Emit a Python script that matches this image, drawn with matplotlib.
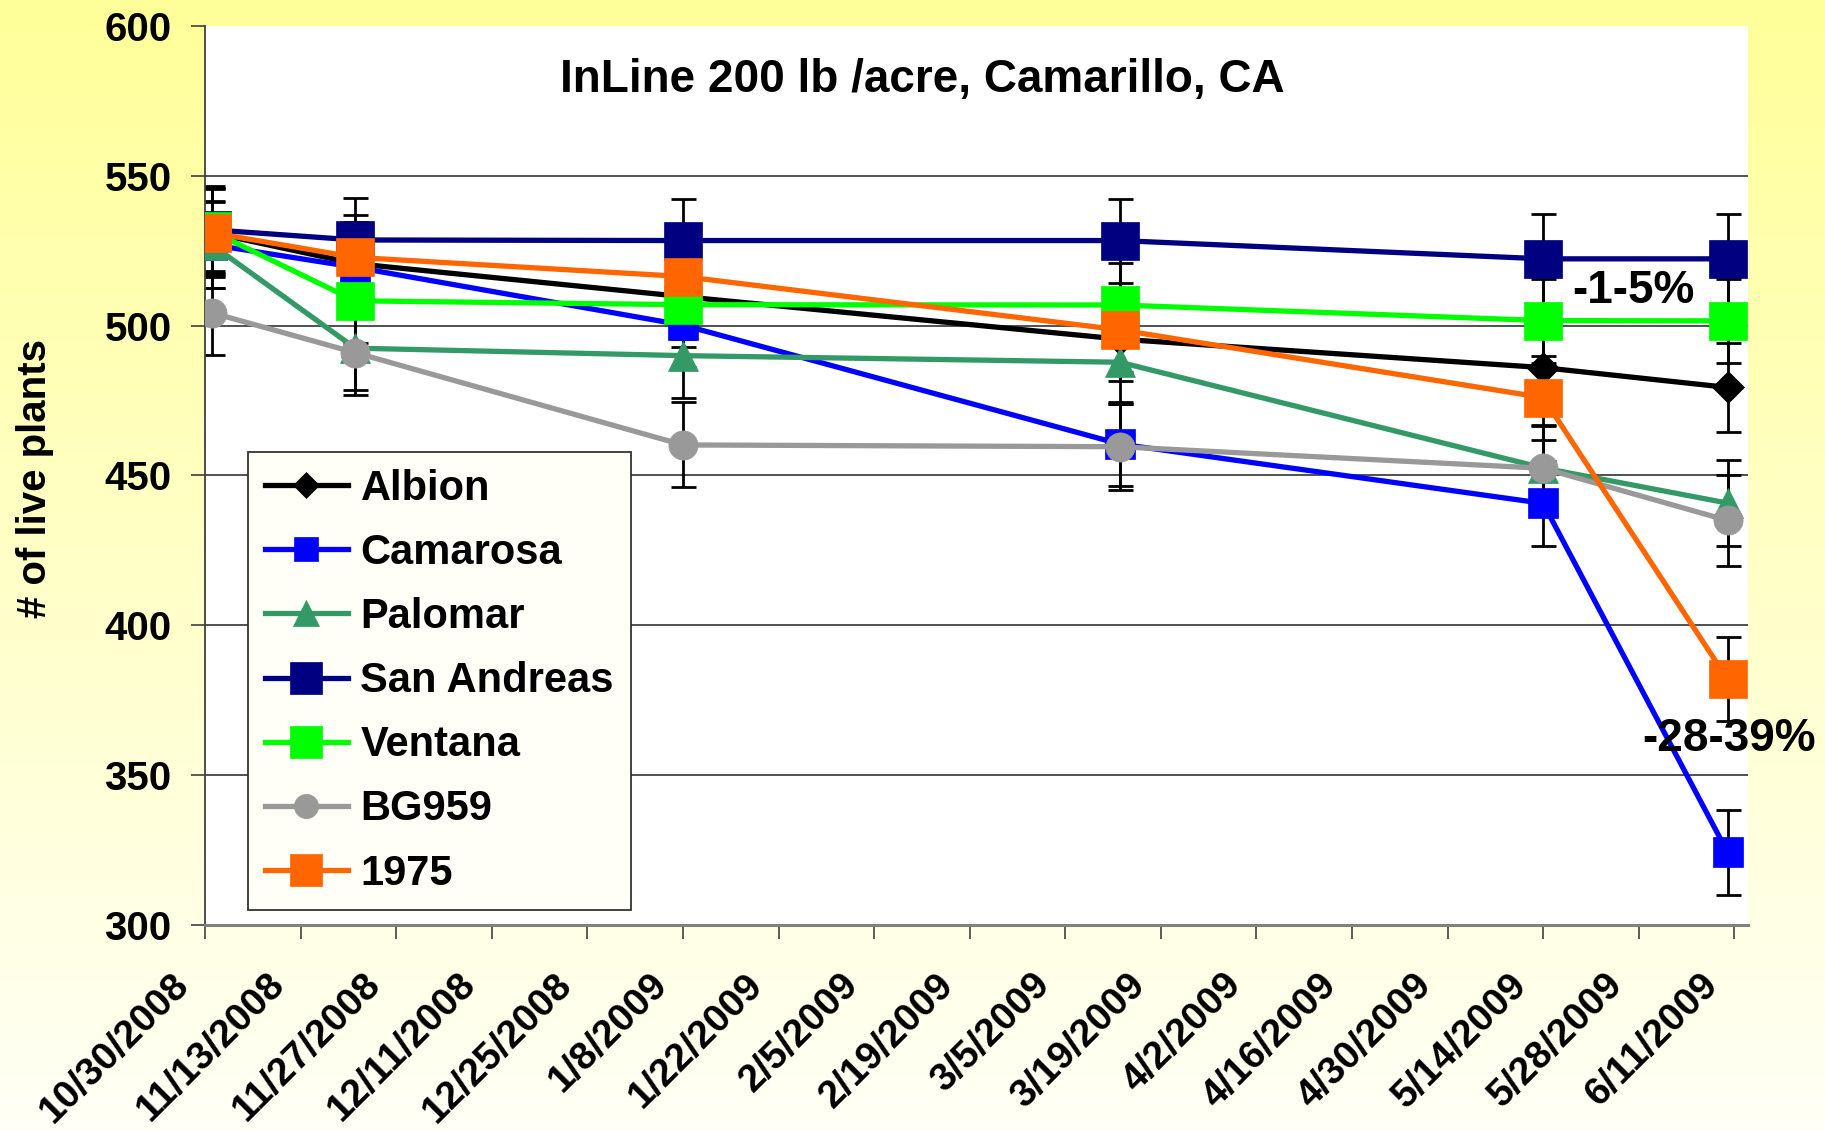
import numpy as np
import pandas as pd
import matplotlib.pyplot as plt
from matplotlib.transforms import ScaledTranslation

plt.rcParams['font.family'] = ['Liberation Sans', 'DejaVu Sans']
plt.rcParams['font.weight'] = 'bold'

# sampling dates and plant counts
sample_dates = pd.to_datetime(['2008-10-31', '2008-11-21', '2009-01-08',
                               '2009-03-13', '2009-05-14', '2009-06-10'])

series_names = ['Albion', 'Camarosa', 'Palomar', 'San Andreas', 'Ventana', 'BG959', '1975']
albion = [531, 520.7, 509.7, 495.5, 486, 479.4]
camarosa = [527, 519.5, 500.2, 460.5, 440.7, 324.3]
palomar = [527, 492.5, 490, 487.8, 452.5, 440.8]
san_andreas = [532, 528.6, 528.4, 528.4, 522.3, 522.3]
ventana = [531.5, 508.3, 507, 506.9, 501.7, 501.6]
bg959 = [504.3, 491, 460.2, 459.6, 452.4, 435]
y1975 = [531, 522.8, 516.4, 498.6, 476, 382]

# error bars (+/-)
albion_err = [14.5, 14, 14, 14, 14.5, 14.8]
camarosa_err = [14.3, 14, 14, 14, 14.2, 14.2]
palomar_err = [14.5, 14, 14, 14, 14.3, 14.3]
san_andreas_err = [14.5, 14, 13.8, 14, 15, 15]
ventana_err = [14.4, 14, 14, 14, 14, 14]
bg959_err = [14.1, 14, 14.2, 14.3, 14, 15.3]
y1975_err = [14.8, 14, 14, 14, 14, 14]

tick_labels = ['10/30/2008', '11/13/2008', '11/27/2008', '12/11/2008', '12/25/2008',
               '1/8/2009', '1/22/2009', '2/5/2009', '2/19/2009', '3/5/2009',
               '3/19/2009', '4/2/2009', '4/16/2009', '4/30/2009', '5/14/2009',
               '5/28/2009', '6/11/2009']

values = [albion, camarosa, palomar, san_andreas, ventana, bg959, y1975]
errs = [albion_err, camarosa_err, palomar_err, san_andreas_err, ventana_err, bg959_err, y1975_err]
colors = ['#000000', '#0000FF', '#339966', '#000080', '#00FF00', '#999999', '#FF6600']
markers = ['D', 's', '^', 's', 's', 'o', 's']
msizes = [16.5, 21, 22, 27, 27, 21, 27]

fig = plt.figure(figsize=(18.25, 11.31), dpi=100)

# yellow gradient background
bg = fig.add_axes([0, 0, 1, 1], zorder=-10)
grad = np.linspace(0, 1, 256).reshape(-1, 1)
top = np.array([1.0, 1.0, 0.60])
bot = np.array([1.0, 1.0, 0.965])
img = top + (bot - top) * grad[:, :, None]
bg.imshow(img, aspect='auto', extent=[0, 1, 0, 1])
bg.axis('off')

ax = fig.add_axes([205 / 1825, 1 - 925 / 1131, 1543 / 1825, 899 / 1131])
ax.set_facecolor('white')

for v, e in zip(values, errs):
    ax.errorbar(sample_dates, v, yerr=e, fmt='none', ecolor='black',
                elinewidth=2, capsize=9, capthick=2, zorder=2)

for name, v, c, m, ms in zip(series_names, values, colors, markers, msizes):
    ax.plot(sample_dates, v, color=c, marker=m, ms=ms, mec=c, mew=0.5,
            lw=3.8, label=name, zorder=3)

ax.set_ylim(300, 600)
ax.set_yticks(np.arange(300, 601, 50))
for yv in np.arange(350, 551, 50):
    ax.axhline(yv, color='#202020', lw=1.1, zorder=1)

ax.set_xlim(pd.Timestamp('2008-10-30'), pd.Timestamp('2009-06-13'))
ax.set_xticks(pd.to_datetime(tick_labels, format='%m/%d/%Y'))
ax.tick_params(axis='x', direction='out', length=10, width=1.2, color='#404040', pad=20)
ax.tick_params(axis='y', direction='out', length=10, width=1.2, color='#404040',
               pad=14, labelsize=29)
ax.set_xticklabels(tick_labels, rotation=45, ha='right', va='top',
                   rotation_mode='anchor', fontsize=28)
shift = ScaledTranslation(-0.34, 0, fig.dpi_scale_trans)
for lab in ax.get_xticklabels():
    lab.set_transform(lab.get_transform() + shift)

for s in ['top', 'right']:
    ax.spines[s].set_visible(False)
ax.spines['left'].set_color('#404040')
ax.spines['left'].set_linewidth(1.3)
ax.spines['bottom'].set_color('#808080')
ax.spines['bottom'].set_linewidth(2.2)

ax.text(0.465, 0.940, 'InLine 200 lb /acre, Camarillo, CA', transform=ax.transAxes,
        ha='center', va='center', fontsize=33)
ax.text(0.926, 0.705, '-1-5%', transform=ax.transAxes, ha='center', va='center',
        fontsize=33, zorder=5)
ax.text(0.988, 0.207, '-28-39%', transform=ax.transAxes, ha='center', va='center',
        fontsize=33, zorder=5, clip_on=False)

fig.text(35 / 1825, 1 - 478 / 1131, '# of live plants', rotation=90,
         ha='center', va='center', fontsize=29)

leg = ax.legend(loc='upper left', bbox_to_anchor=(248 / 1825, 1 - 452 / 1131),
                bbox_transform=fig.transFigure, fontsize=30, markerscale=0.83,
                frameon=True, fancybox=False, framealpha=1, facecolor='#FFFFF8',
                edgecolor='#333333', borderaxespad=0, borderpad=0.4,
                labelspacing=0.58, handlelength=2.0, handletextpad=0.3)
leg.get_frame().set_linewidth(1.3)
leg.set_zorder(10)

fig.savefig('out.png', dpi=100)
